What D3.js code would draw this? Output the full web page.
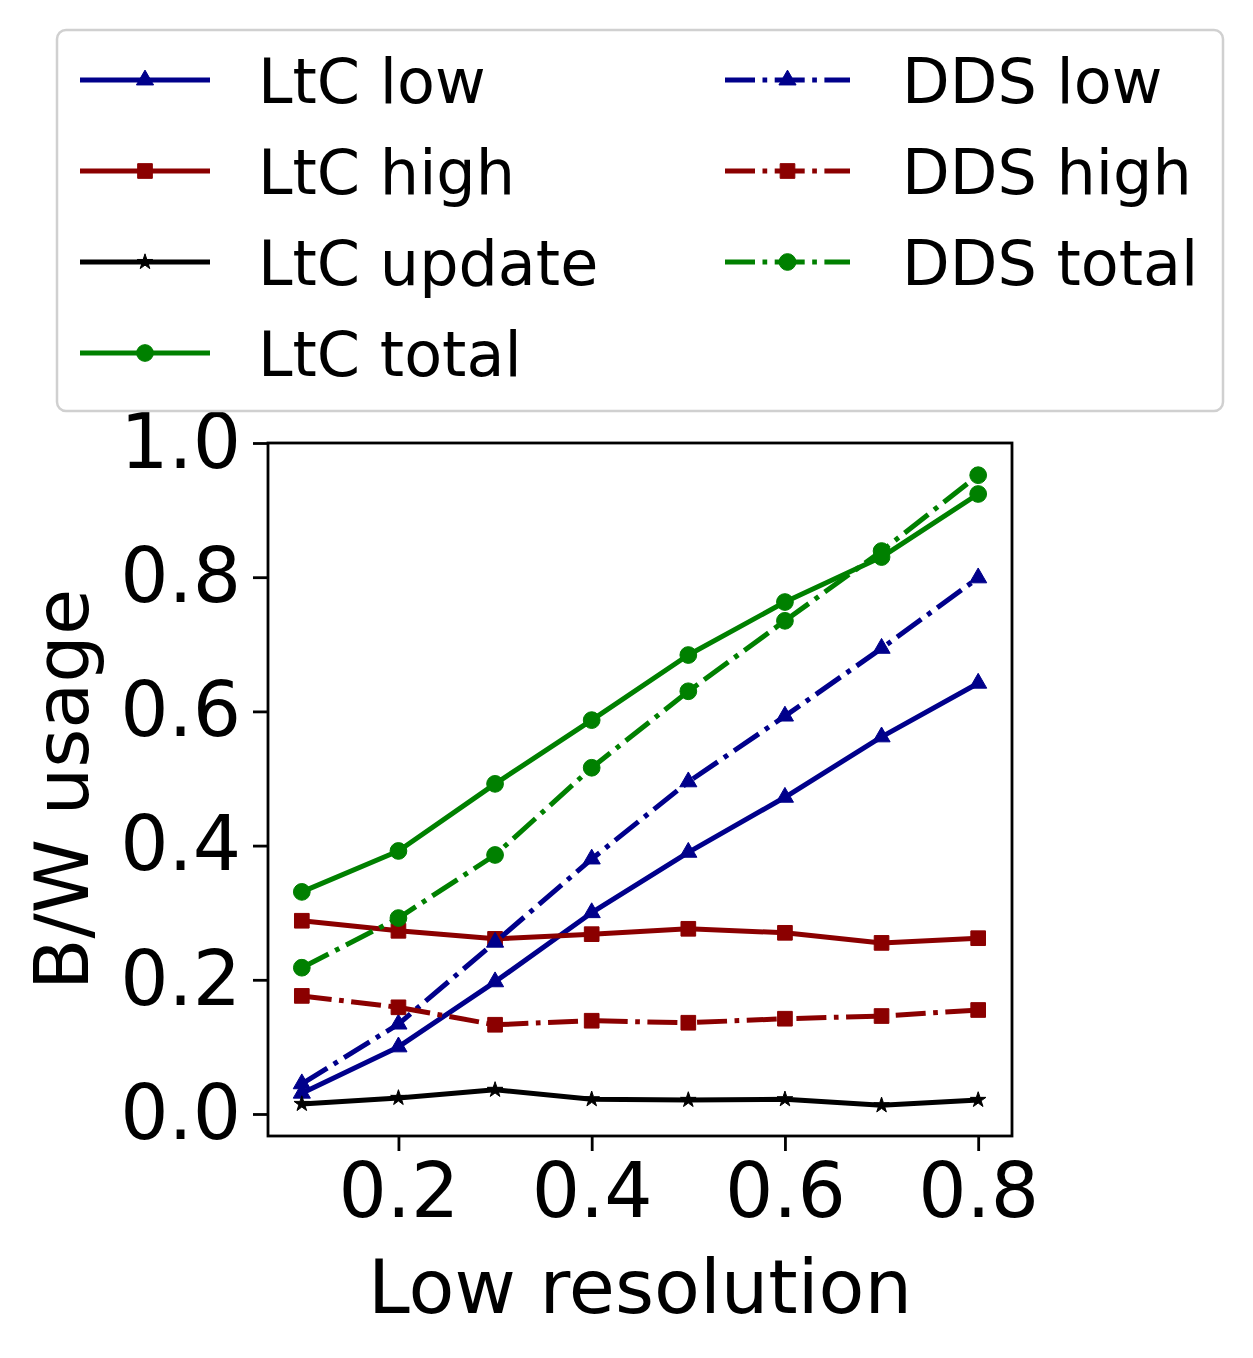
<!DOCTYPE html>
<html>
<head>
<meta charset="utf-8">
<script src="https://cdn.jsdelivr.net/npm/d3@7"></script>
<style>
  body { margin: 0; background: #fff; }
  svg { font-family: "DejaVu Sans", sans-serif; }
</style>
</head>
<body>
<svg id="chart" width="1253" height="1358"></svg>
<script>
// data
const resolutions = [0.1, 0.2, 0.3, 0.4, 0.5, 0.6, 0.7, 0.8];
const ltcLow    = [0.031, 0.100, 0.197, 0.300, 0.390, 0.472, 0.562, 0.642];
const ltcHigh   = [0.288, 0.273, 0.261, 0.268, 0.276, 0.270, 0.255, 0.262];
const ltcUpdate = [0.015, 0.024, 0.036, 0.022, 0.021, 0.022, 0.013, 0.021];
const ltcTotal  = [0.331, 0.392, 0.492, 0.587, 0.684, 0.763, 0.830, 0.924];
const ddsLow    = [0.045, 0.134, 0.256, 0.380, 0.495, 0.593, 0.694, 0.799];
const ddsHigh   = [0.176, 0.159, 0.133, 0.139, 0.136, 0.142, 0.146, 0.155];
const ddsTotal  = [0.218, 0.292, 0.386, 0.516, 0.630, 0.735, 0.839, 0.952];
const xTicks = [0.2, 0.4, 0.6, 0.8];
const yTicks = [0.0, 0.2, 0.4, 0.6, 0.8, 1.0];

const dashdot = "30,7.5,4.7,7.5";
const series = [
    { name: "LtC low",    values: ltcLow,    color: "#00008b", marker: "tri",  dash: null },
    { name: "LtC high",   values: ltcHigh,   color: "#8b0000", marker: "sq",   dash: null },
    { name: "LtC update", values: ltcUpdate, color: "#000000", marker: "star", dash: null },
    { name: "LtC total",  values: ltcTotal,  color: "#008000", marker: "dot",  dash: null },
    { name: "DDS low",    values: ddsLow,    color: "#00008b", marker: "tri",  dash: dashdot },
    { name: "DDS high",   values: ddsHigh,   color: "#8b0000", marker: "sq",   dash: dashdot },
    { name: "DDS total",  values: ddsTotal,  color: "#008000", marker: "dot",  dash: dashdot }
];

const svg = d3.select("#chart");
const plot = { left: 268, right: 1012, top: 443, bottom: 1136 };

const x = d3.scaleLinear().domain([0.065, 0.835]).range([plot.left, plot.right]);
const y = d3.scaleLinear().domain([-0.0328, 1.0]).range([plot.bottom, plot.top]);

const symbolFor = (m) => {
    if (m === "tri") return d3.symbol().type(d3.symbolTriangle2).size(210);
    if (m === "sq") return d3.symbol().type(d3.symbolSquare).size(215);
    if (m === "star") return d3.symbol().type(d3.symbolStar).size(75);
    return d3.symbol().type(d3.symbolCircle).size(220);
};

// axes
const xAxis = svg.append("g")
    .attr("transform", `translate(0,${plot.bottom})`)
    .call(d3.axisBottom(x).tickValues(xTicks).tickFormat(d3.format(".1f")).tickSize(15).tickPadding(12));
const yAxis = svg.append("g")
    .attr("transform", `translate(${plot.left},0)`)
    .call(d3.axisLeft(y).tickValues(yTicks).tickFormat(d3.format(".1f")).tickSize(15).tickPadding(12));
[xAxis, yAxis].forEach(a => {
    a.select(".domain").remove();
    a.selectAll(".tick line").attr("stroke", "#000").attr("stroke-width", 2.8);
    a.selectAll(".tick text").attr("font-size", 76).attr("fill", "#000")
        .attr("font-family", "DejaVu Sans, sans-serif");
});

// lines
const line = d3.line().x((d, i) => x(resolutions[i])).y(d => y(d));
series.forEach(s => {
    svg.append("path")
        .attr("d", line(s.values))
        .attr("fill", "none")
        .attr("stroke", s.color)
        .attr("stroke-width", 5)
        .attr("stroke-linejoin", "round")
        .attr("stroke-dasharray", s.dash);
    svg.append("g").selectAll("path")
        .data(s.values)
        .join("path")
        .attr("d", symbolFor(s.marker))
        .attr("transform", (d, i) => `translate(${x(resolutions[i])},${y(d)})`)
        .attr("fill", s.color)
        .attr("stroke", s.color)
        .attr("stroke-width", 1);
});

// frame
svg.append("rect")
    .attr("x", plot.left).attr("y", plot.top)
    .attr("width", plot.right - plot.left).attr("height", plot.bottom - plot.top)
    .attr("fill", "none").attr("stroke", "#000").attr("stroke-width", 2.8);

// axis labels
svg.append("text")
    .attr("x", (plot.left + plot.right) / 2).attr("y", 1313)
    .attr("text-anchor", "middle").attr("font-size", 75)
    .text("Low resolution");
svg.append("text")
    .attr("transform", `translate(88,${(plot.top + plot.bottom) / 2}) rotate(-90)`)
    .attr("text-anchor", "middle").attr("font-size", 75)
    .text("B/W usage");

// legend
const legend = svg.append("g");
legend.append("rect")
    .attr("x", 57).attr("y", 30).attr("width", 1166).attr("height", 381)
    .attr("rx", 9).attr("fill", "#fff").attr("fill-opacity", 0.8)
    .attr("stroke", "#d0d0d0").attr("stroke-width", 2.5);
const rowY = [80, 171, 262, 353];
const cols = [{ x0: 80, x1: 210, tx: 258 }, { x0: 725, x1: 850, tx: 902 }];
series.forEach((s, i) => {
    const c = i < 4 ? cols[0] : cols[1];
    const ry = rowY[i < 4 ? i : i - 4];
    const g = legend.append("g");
    g.append("line")
        .attr("x1", c.x0).attr("x2", c.x1).attr("y1", ry).attr("y2", ry)
        .attr("stroke", s.color).attr("stroke-width", 5)
        .attr("stroke-dasharray", s.dash);
    g.append("path")
        .attr("d", symbolFor(s.marker))
        .attr("transform", `translate(${(c.x0 + c.x1) / 2},${ry})`)
        .attr("fill", s.color)
        .attr("stroke", s.color)
        .attr("stroke-width", 1);
    g.append("text")
        .attr("x", c.tx).attr("y", ry + 23)
        .attr("font-size", 62)
        .text(s.name);
});
</script>
</body>
</html>
